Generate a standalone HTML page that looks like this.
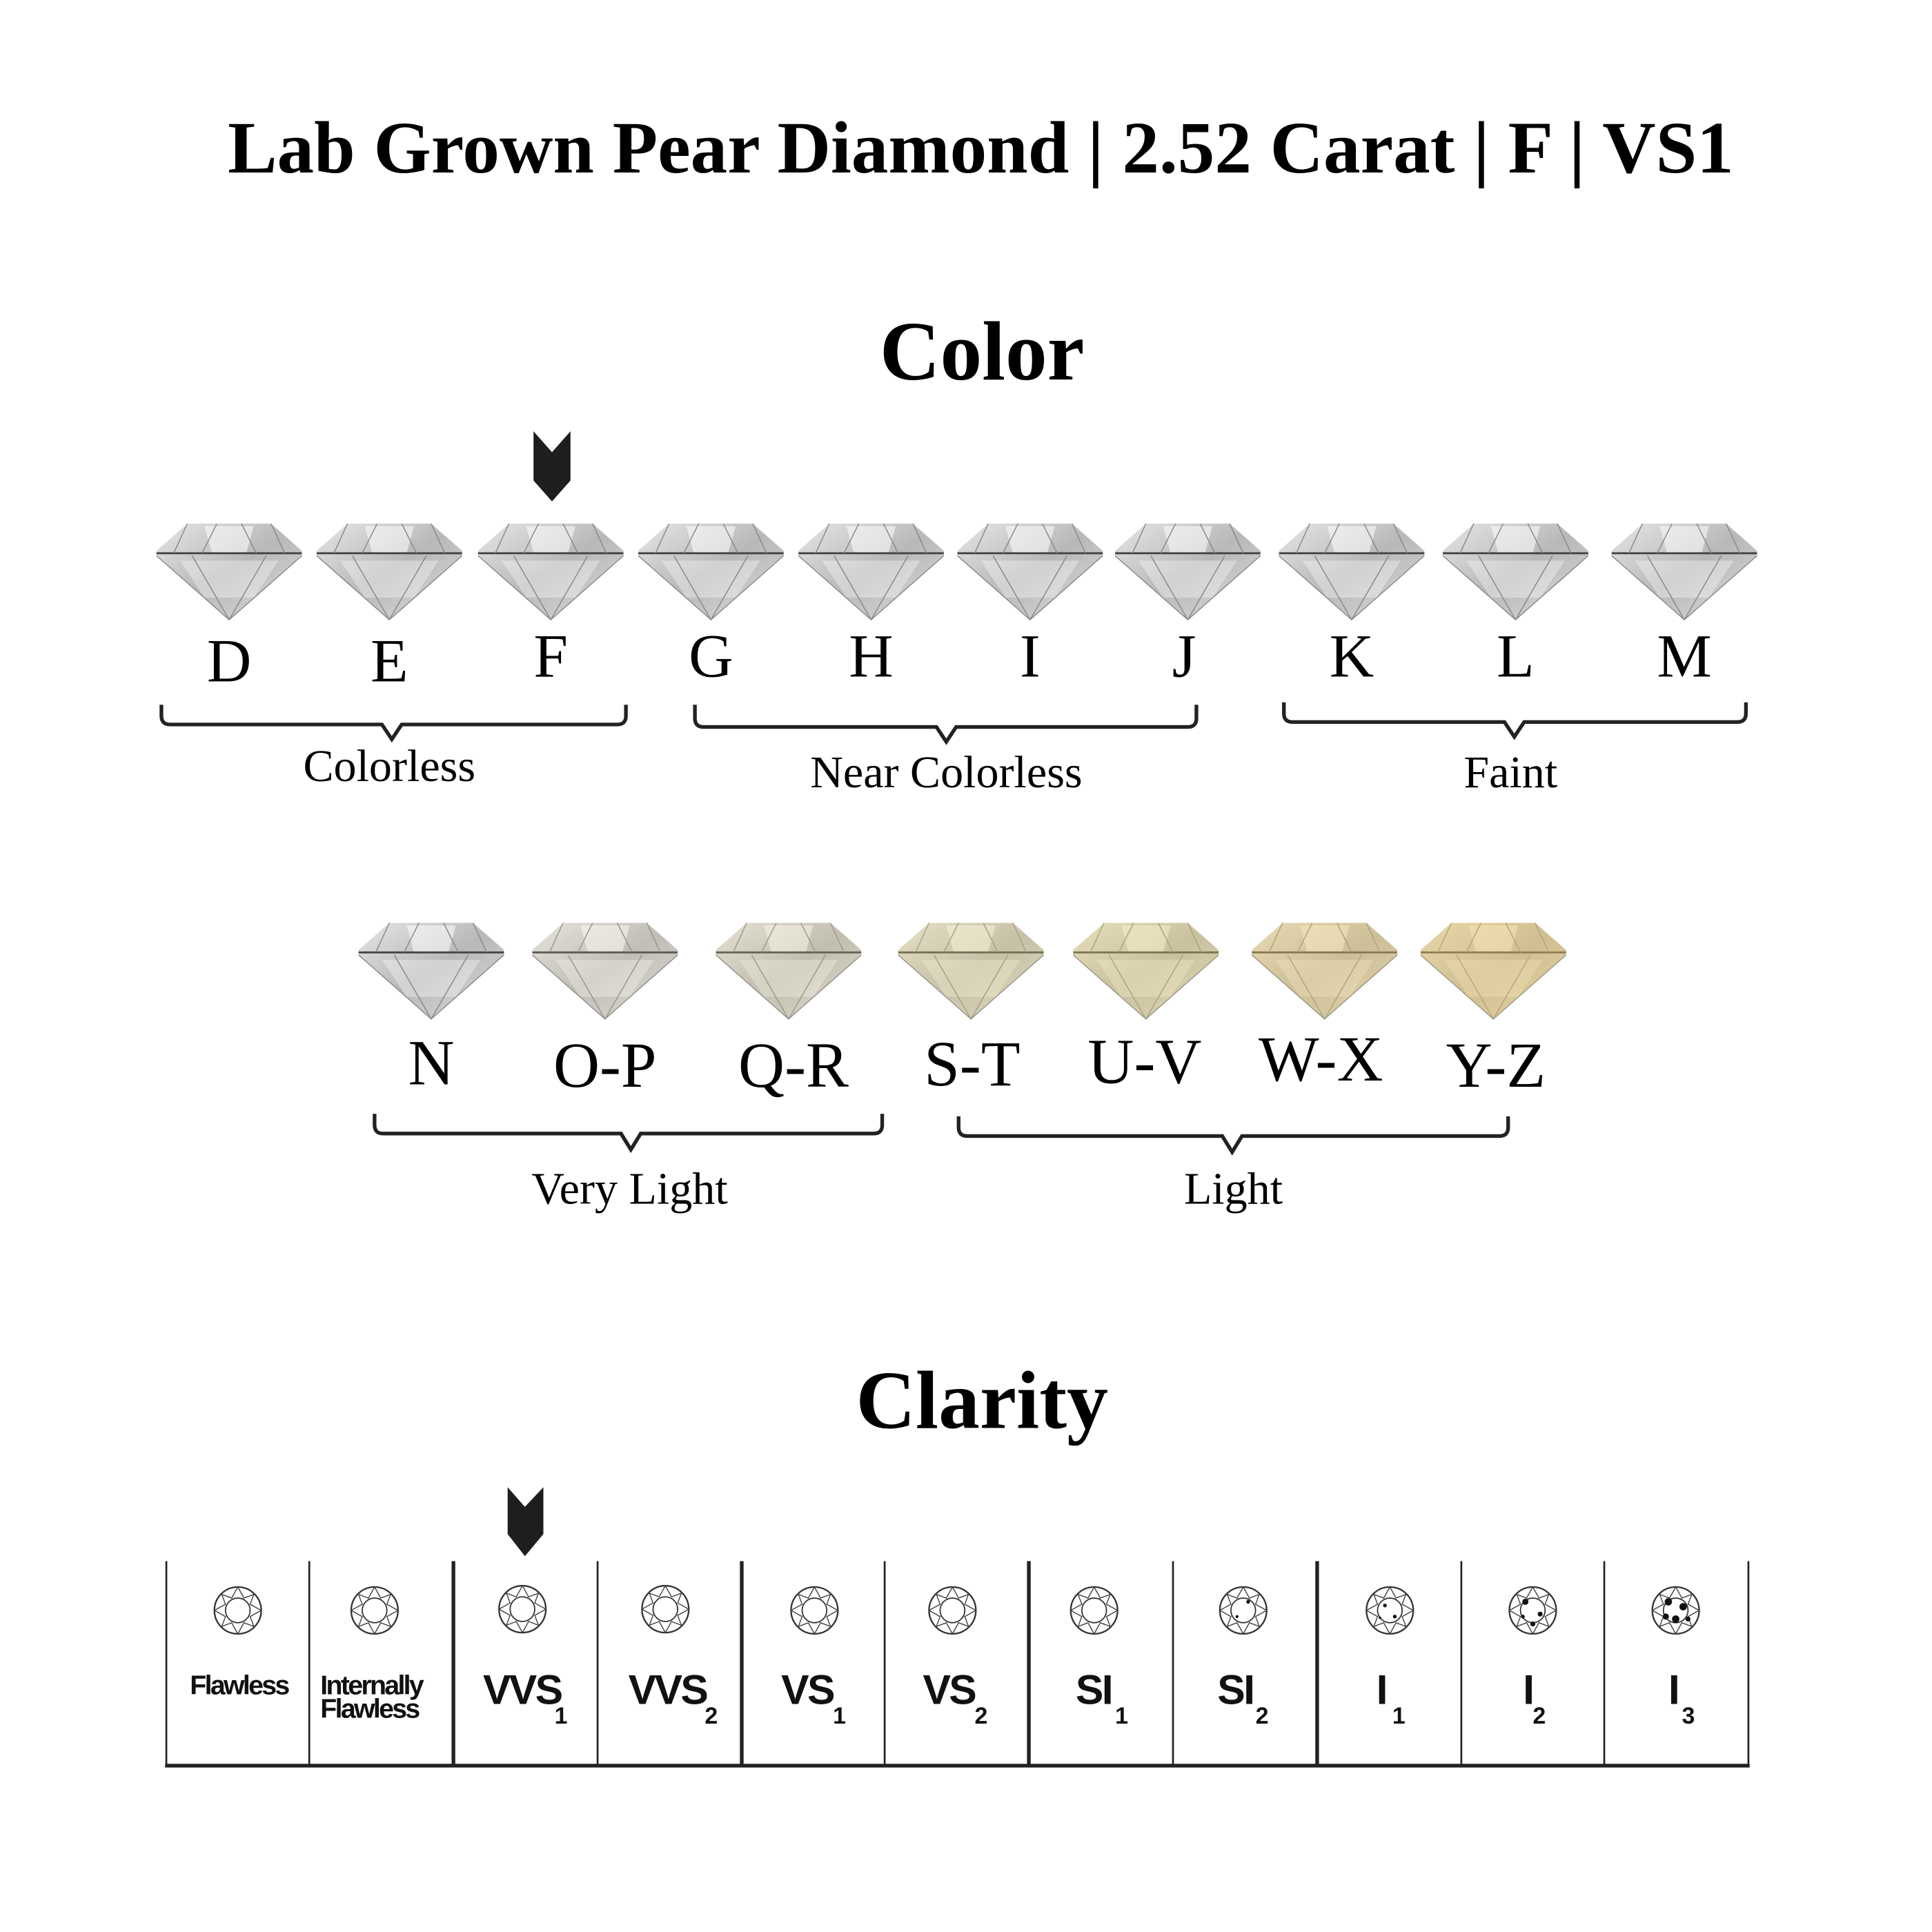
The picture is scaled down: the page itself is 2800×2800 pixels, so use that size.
<!DOCTYPE html>
<html><head><meta charset="utf-8"><style>
html,body{margin:0;padding:0;background:#fff;}
svg{display:block}
.t{font-family:"Liberation Serif",serif;fill:#000}
.a{font-family:"Liberation Sans",sans-serif;font-weight:bold;fill:#111;letter-spacing:-1.5px}
</style></head><body>
<svg width="2800" height="2800" viewBox="0 0 1568 1568" xmlns="http://www.w3.org/2000/svg">
<defs>
<linearGradient id="g0" x1="0" y1="0" x2="1" y2="1"><stop offset="0" stop-color="#e6e6e6"/><stop offset="0.5" stop-color="#b8b8b8"/><stop offset="1" stop-color="#dedede"/></linearGradient>
<g id="dm">
<polygon points="-34,-38 34,-38 59,-16 59,-12 0,40 -59,-12 -59,-16" fill="url(#g0)"/>
<polygon points="-20,-36 20,-36 14,-14 -14,-14" fill="#fff" opacity="0.55"/>
<polygon points="-40,-8 40,-8 20,22 -20,22" fill="#fff" opacity="0.35"/>
<line x1="-59" y1="-14" x2="59" y2="-14" stroke="#444" stroke-width="1.6"/>
<path d="M-34,-38 L-45,-14 M34,-38 L45,-14 M-59,-12 L0,40 L59,-12 M-30,-12 L0,40 L30,-12 M-10,-38 L-22,-14 M10,-38 L22,-14" stroke="#888" stroke-width="0.8" fill="none"/>
</g>
<g id="ci">
<circle r="19" fill="none" stroke="#333" stroke-width="1.3"/>
<circle r="10" fill="none" stroke="#333" stroke-width="1"/>
<polygon points="0,-19 5,-10 13,-13 10,-5 19,0 10,5 13,13 5,10 0,19 -5,10 -13,13 -10,5 -19,0 -10,-5 -13,-13 -5,-10" fill="none" stroke="#444" stroke-width="0.8"/>
</g>
</defs>

<text class="t" x="796" y="140" font-size="60" font-weight="bold" text-anchor="middle">Lab Grown Pear Diamond | 2.52 Carat | F | VS1</text>
<text class="t" x="797" y="308" font-size="68" font-weight="bold" text-anchor="middle">Color</text>

<polygon points="433,350 448,367 463,350 463,390 448,407 433,390" fill="#1e1e1c"/>

<g>
<use href="#dm" x="186" y="463"/><use href="#dm" x="316" y="463"/><use href="#dm" x="447" y="463"/>
<use href="#dm" x="577" y="463"/><use href="#dm" x="707" y="463"/><use href="#dm" x="836" y="463"/>
<use href="#dm" x="964" y="463"/><use href="#dm" x="1097" y="463"/><use href="#dm" x="1230" y="463"/><use href="#dm" x="1367" y="463"/>
</g>
<g class="t" font-size="50" text-anchor="middle">
<text x="186" y="553">D</text><text x="316" y="553">E</text><text x="447" y="549">F</text>
<text x="577" y="549">G</text><text x="707" y="549">H</text><text x="836" y="549">I</text>
<text x="961" y="549">J</text><text x="1097" y="549">K</text><text x="1230" y="549">L</text><text x="1367" y="549">M</text>
</g>
<g fill="none" stroke="#222" stroke-width="3">
<path d="M131,572 v9 q0,7 7,7 h172 l8,12 l8,-12 h175 q7,0 7,-7 v-9"/>
<path d="M564,572 v11 q0,7 7,7 h189 l8,12 l8,-12 h188 q7,0 7,-7 v-11"/>
<path d="M1042,570 v9 q0,7 7,7 h172 l8,12 l8,-12 h173 q7,0 7,-7 v-9"/>
<path d="M304,904 v9 q0,7 7,7 h193 l8,13 l8,-13 h189 q7,0 7,-7 v-9"/>
<path d="M778,906 v9 q0,7 7,7 h207 l8,13 l8,-13 h209 q7,0 7,-7 v-9"/>
</g>
<g class="t" font-size="37" text-anchor="middle">
<text x="316" y="634">Colorless</text><text x="768" y="639">Near Colorless</text><text x="1226" y="639">Faint</text>
<text x="511" y="977">Very Light</text><text x="1001" y="977">Light</text>
</g>

<g>
<use href="#dm" x="350" y="787"/>
<g><use href="#dm" x="491" y="787"/><polygon points="457,749 525,749 550,771 550,775 491,827 432,775 432,771" fill="#e8dfb0" opacity="0.15"/></g>
<g><use href="#dm" x="640" y="787"/><polygon points="606,749 674,749 699,771 699,775 640,827 581,775 581,771" fill="#e8d890" opacity="0.22"/></g>
<g><use href="#dm" x="788" y="787"/><polygon points="754,749 822,749 847,771 847,775 788,827 729,775 729,771" fill="#e8d480" opacity="0.3"/></g>
<g><use href="#dm" x="930" y="787"/><polygon points="896,749 964,749 989,771 989,775 930,827 871,775 871,771" fill="#ead070" opacity="0.35"/></g>
<g><use href="#dm" x="1075" y="787"/><polygon points="1041,749 1109,749 1134,771 1134,775 1075,827 1016,775 1016,771" fill="#eccb68" opacity="0.4"/></g>
<g><use href="#dm" x="1212" y="787"/><polygon points="1178,749 1246,749 1271,771 1271,775 1212,827 1153,775 1153,771" fill="#eec860" opacity="0.45"/></g>
</g>
<g class="t" font-size="52" text-anchor="middle">
<text x="350" y="880">N</text><text x="491" y="882">O-P</text><text x="644" y="882">Q-R</text>
<text x="789" y="881">S-T</text><text x="929" y="879">U-V</text><text x="1072" y="877">W-X</text><text x="1214" y="882">Y-Z</text>
</g>

<text class="t" x="797" y="1159" font-size="67" font-weight="bold" text-anchor="middle">Clarity</text>
<polygon points="412,1207 426,1223 441,1207 441,1245 426,1263 412,1245" fill="#1e1e1c"/>

<g stroke="#222">
<line x1="135" y1="1267" x2="135" y2="1433" stroke-width="1.5"/>
<line x1="251" y1="1267" x2="251" y2="1433" stroke-width="1.5"/>
<line x1="368" y1="1267" x2="368" y2="1433" stroke-width="3"/>
<line x1="485" y1="1267" x2="485" y2="1433" stroke-width="1.5"/>
<line x1="602" y1="1267" x2="602" y2="1433" stroke-width="3"/>
<line x1="718" y1="1267" x2="718" y2="1433" stroke-width="1.5"/>
<line x1="835" y1="1267" x2="835" y2="1433" stroke-width="3"/>
<line x1="952" y1="1267" x2="952" y2="1433" stroke-width="1.5"/>
<line x1="1069" y1="1267" x2="1069" y2="1433" stroke-width="3"/>
<line x1="1186" y1="1267" x2="1186" y2="1433" stroke-width="1.5"/>
<line x1="1302" y1="1267" x2="1302" y2="1433" stroke-width="1.5"/>
<line x1="1419" y1="1267" x2="1419" y2="1433" stroke-width="1.5"/>
<line x1="134" y1="1433" x2="1420" y2="1433" stroke-width="3"/>
</g>
<g>
<use href="#ci" x="193" y="1307"/><use href="#ci" x="304" y="1307"/><use href="#ci" x="424" y="1306"/>
<use href="#ci" x="540" y="1306"/><use href="#ci" x="661" y="1307"/><use href="#ci" x="773" y="1307"/>
<use href="#ci" x="888" y="1307"/><use href="#ci" x="1009" y="1307"/><use href="#ci" x="1128" y="1307"/>
<use href="#ci" x="1244" y="1307"/><use href="#ci" x="1360" y="1307"/>
</g>
<g fill="#111">
<circle cx="1124" cy="1303" r="1.5"/><circle cx="1132" cy="1312" r="1.5"/><circle cx="1120" cy="1313" r="1"/>
<circle cx="1238" cy="1300" r="2.5"/><circle cx="1250" cy="1310" r="2"/><circle cx="1244" cy="1318" r="2"/><circle cx="1236" cy="1312" r="1.5"/>
<circle cx="1354" cy="1300" r="3"/><circle cx="1366" cy="1304" r="3"/><circle cx="1360" cy="1314" r="3"/><circle cx="1352" cy="1312" r="2.5"/><circle cx="1370" cy="1314" r="2"/>
<circle cx="1013" cy="1300" r="1.5"/><circle cx="1004" cy="1312" r="1.2"/>
</g>
<g class="a">
<text x="194" y="1375" font-size="22" text-anchor="middle">Flawless</text>
<text x="260" y="1375" font-size="22">Internally</text>
<text x="260" y="1394" font-size="22">Flawless</text>
<text x="392" y="1383" font-size="34">VVS</text><text x="450" y="1399" font-size="19">1</text>
<text x="510" y="1383" font-size="34">VVS</text><text x="572" y="1399" font-size="19">2</text>
<text x="634" y="1383" font-size="34">VS</text><text x="676" y="1399" font-size="19">1</text>
<text x="749" y="1383" font-size="34">VS</text><text x="791" y="1399" font-size="19">2</text>
<text x="873" y="1383" font-size="34">SI</text><text x="905" y="1399" font-size="19">1</text>
<text x="988" y="1383" font-size="34">SI</text><text x="1019" y="1399" font-size="19">2</text>
<text x="1117" y="1383" font-size="34">I</text><text x="1130" y="1399" font-size="19">1</text>
<text x="1236" y="1383" font-size="34">I</text><text x="1244" y="1399" font-size="19">2</text>
<text x="1354" y="1383" font-size="34">I</text><text x="1365" y="1399" font-size="19">3</text>
</g>
</svg>
</body></html>
